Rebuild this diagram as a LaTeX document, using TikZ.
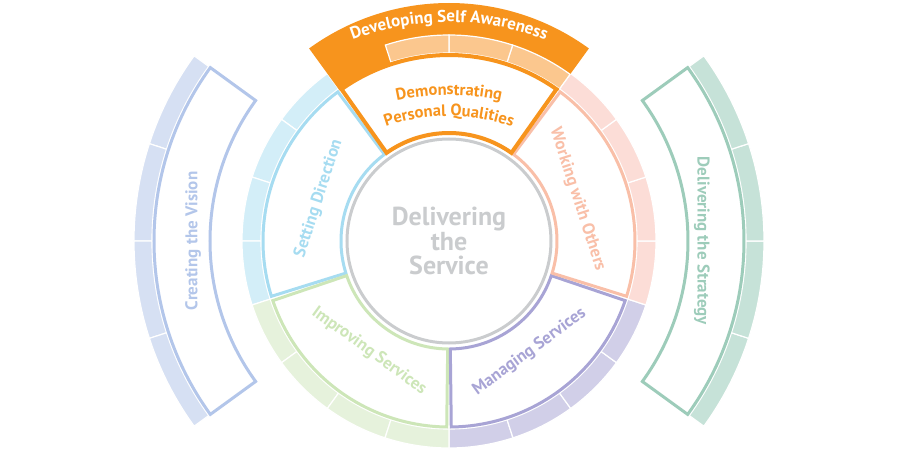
\documentclass[tikz,border=0pt]{standalone}
\usepackage{fontspec}
\setmainfont{PT Sans}
\usepackage{tikz}
\usetikzlibrary{decorations.text}

\definecolor{dsaorange}{HTML}{F7941D}
\definecolor{dsalight}{HTML}{FBC78E}
\definecolor{sdline}{HTML}{A6DCF1}
\definecolor{sdband}{HTML}{D3EEF8}
\definecolor{wwline}{HTML}{F9BFA8}
\definecolor{wwband}{HTML}{FCDDD7}
\definecolor{msline}{HTML}{A8A4D5}
\definecolor{msband}{HTML}{D1CFE8}
\definecolor{isline}{HTML}{CDE6B8}
\definecolor{isband}{HTML}{E6F2DC}
\definecolor{cvline}{HTML}{B3C6EA}
\definecolor{cvband}{HTML}{D6E0F3}
\definecolor{dsline}{HTML}{9DCCBA}
\definecolor{dsband}{HTML}{C6E2D8}
\definecolor{coregray}{HTML}{CACCCE}

\tikzset{
  domainbox/.style={draw=#1, line width=3pt, fill=white},
  bandcell/.style={fill=#1, draw=white, line width=1.2pt},
  domainlabel/.style={text=#1, font=\bfseries\fontsize{17}{19}\selectfont, inner sep=0pt},
}

\newcommand{\ringpart}[5]{%
  \path[#5] (#1:#3) arc[start angle=#1, end angle=#2, radius=#3]
    -- (#2:#4) arc[start angle=#2, end angle=#1, radius=#4] -- cycle;}

\begin{document}
\begin{tikzpicture}[x=1pt, y=1pt]
\useasboundingbox (-449,-219) rectangle (451,241);

\foreach \a in {144,162,180,198} {\pgfmathsetmacro{\b}{\a+18}\ringpart{\a}{\b}{297}{315}{bandcell=cvband}}
\ringpart{144}{216}{239}{295}{domainbox=cvline}
\foreach \a in {-36,-18,0,18} {\pgfmathsetmacro{\b}{\a+18}\ringpart{\a}{\b}{297}{315}{bandcell=dsband}}
\ringpart{-36}{36}{239}{295}{domainbox=dsline}

\foreach \a/\c in {-90/msband,-72/msband,-54/msband,-36/msband,-18/wwband,0/wwband,18/wwband,36/wwband,
  126/sdband,144/sdband,162/sdband,180/sdband,198/isband,216/isband,234/isband,252/isband}
  {\pgfmathsetmacro{\b}{\a+18}\ringpart{\a}{\b}{188}{207}{bandcell=\c}}
\ringpart{54}{126}{186}{238}{fill=dsaorange}
\foreach \a in {54,72,90} {\pgfmathsetmacro{\b}{\a+18}\ringpart{\a}{\b}{188}{206}{bandcell=dsalight}}

\ringpart{126.7}{197.3}{108}{186}{domainbox=sdline}
\ringpart{198.7}{269.3}{108}{186}{domainbox=isline}
\ringpart{-89.3}{-18.7}{108}{186}{domainbox=msline}
\ringpart{-17.3}{53.3}{108}{186}{domainbox=wwline}
\ringpart{54.7}{125.3}{108}{186}{domainbox=dsaorange, line width=4pt}

\node[circle, draw=coregray, line width=3pt, minimum size=204pt, inner sep=0pt, align=center,
  text=coregray, font=\bfseries\fontsize{26}{24.5}\selectfont] (core) at (0,0) {Delivering\\the\\Service};

\node[domainlabel=sdline, rotate=72] (setdir) at (162:137) {Setting Direction};
\node[domainlabel=wwline, rotate=-72] (working) at (18:135) {Working with Others};
\node[domainlabel=isline, rotate=-36] (improving) at (234:136) {Improving Services};
\node[domainlabel=msline, rotate=36] (managing) at (-54:137) {Managing Services};
\node[domainlabel=cvline, rotate=90] (vision) at (180:256) {Creating the Vision};
\node[domainlabel=dsline, rotate=-90] (strategy) at (0:253) {Delivering the Strategy};

\path[decorate, decoration={text along path, text color=white, text align=center,
  text={|\bfseries\fontsize{17}{19}\selectfont|Developing Self Awareness}}]
  ([shift={(0,-51)}]115:270) arc[start angle=115, end angle=65, radius=270];
\path[decorate, decoration={text along path, text color=dsaorange, text align=center,
  text={|\bfseries\fontsize{16.5}{18}\selectfont|Demonstrating}}]
  ([shift={(0,-94)}]106:240) arc[start angle=106, end angle=74, radius=240];
\path[decorate, decoration={text along path, text color=dsaorange, text align=center,
  text={|\bfseries\fontsize{16.5}{18}\selectfont|Personal Qualities}}]
  ([shift={(0,-65)}]112:190) arc[start angle=112, end angle=68, radius=190];
\end{tikzpicture}
\end{document}
